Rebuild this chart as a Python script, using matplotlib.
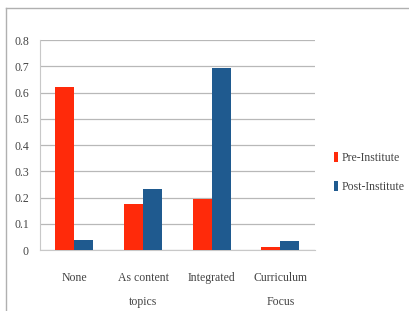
import matplotlib
matplotlib.use("Agg")
import matplotlib.pyplot as plt
import numpy as np
from matplotlib.lines import Line2D

categories = ["None", "As content\ntopics", "Integrated", "Curriculum\nFocus"]
pre_institute = [0.62, 0.175, 0.195, 0.01]
post_institute = [0.038, 0.232, 0.692, 0.034]
yticks = [0, 0.1, 0.2, 0.3, 0.4, 0.5, 0.6, 0.7, 0.8]
ytick_labels = ["0", "0.1", "0.2", "0.3", "0.4", "0.5", "0.6", "0.7", "0.8"]

plt.rcParams["font.family"] = ["Liberation Serif", "DejaVu Serif"]

fig = plt.figure(figsize=(4.10, 3.11), dpi=100)
ax = fig.add_axes([0.0976, 0.196, 0.670, 0.675])

x = np.arange(len(categories))
w = 0.277
ax.bar(x - w / 2, pre_institute, w, color="#ff2a0a", label="Pre-Institute", zorder=3)
ax.bar(x + w / 2, post_institute, w, color="#1f5a8f", label="Post-Institute", zorder=3)

ax.set_xlim(-0.5, 3.5)
ax.set_ylim(0, 0.8)
ax.set_yticks(yticks)
ax.set_yticklabels(ytick_labels)
ax.set_xticks(x)
ax.set_xticklabels(categories, linespacing=2.3)
ax.tick_params(axis="both", length=0, labelsize=8.5, colors="#444444")
ax.tick_params(axis="y", pad=8)
ax.tick_params(axis="x", pad=16)
ax.yaxis.grid(True, color="#b8b8b8", linewidth=0.9, zorder=0)

for s in ["top", "right"]:
    ax.spines[s].set_visible(False)
ax.spines["left"].set_color("#c8c8c8")
ax.spines["bottom"].set_color("#c8c8c8")

ax.legend(loc="center left", bbox_to_anchor=(1.03, 0.37), frameon=False,
          handlelength=0.4, handleheight=1.0, handletextpad=0.3,
          labelspacing=1.4, fontsize=8.5, labelcolor="#444444")

# outer frame of the chart box
fig.add_artist(Line2D([0.015, 0.015], [0, 0.974], color="#b0b0b0", linewidth=1, transform=fig.transFigure))
fig.add_artist(Line2D([0.015, 1], [0.974, 0.974], color="#b0b0b0", linewidth=1, transform=fig.transFigure))

fig.savefig("out.png", dpi=100)
